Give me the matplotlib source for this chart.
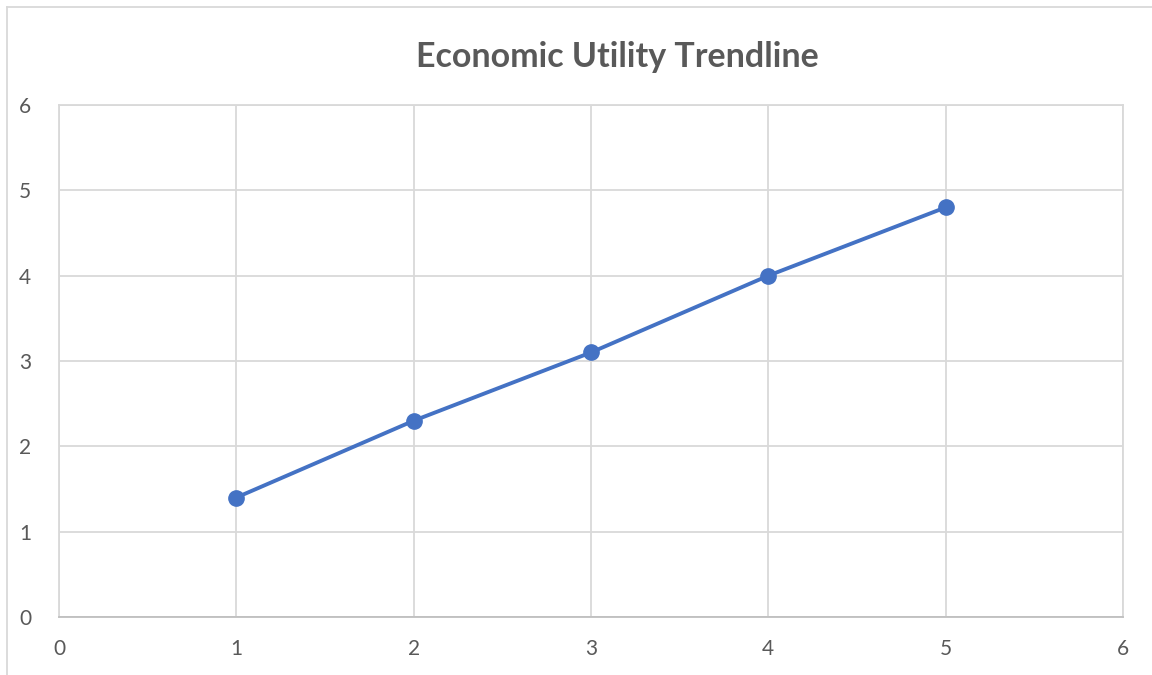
import matplotlib.pyplot as plt
from matplotlib.lines import Line2D

x_vals = [1, 2, 3, 4, 5]
utility = [1.4, 2.3, 3.1, 4.0, 4.8]
ticks = [0, 1, 2, 3, 4, 5, 6]

plt.rcParams['font.family'] = ['Lato', 'DejaVu Sans']

fig = plt.figure(figsize=(11.52, 6.75), dpi=100)
ax = fig.add_axes([59 / 1152, 58 / 675, 1064 / 1152, 512 / 675])

grid_col = '#d9d9d9'
text_col = '#595959'

ax.plot(x_vals, utility, color='#4472C4', lw=2.8, marker='o', ms=11,
        zorder=3, clip_on=False)

ax.set_xlim(0, 6)
ax.set_ylim(0, 6)
ax.set_xticks(ticks)
ax.set_yticks(ticks)
ax.grid(True, color=grid_col, lw=1.3)
ax.set_axisbelow(True)
for s in ax.spines.values():
    s.set_color(grid_col)
    s.set_linewidth(1.3)
ax.spines['bottom'].set_color('#bfbfbf')
ax.tick_params(length=0, labelsize=15, colors=text_col, pad=16)
ax.tick_params(axis='y', pad=20)

fig.text(617 / 1152, 1 - 57 / 675, 'Economic Utility Trendline', ha='center',
         va='center', fontsize=24.5, fontweight='bold', color=text_col)

# chart border (left and top edges visible)
fig.add_artist(Line2D([7 / 1152, 7 / 1152], [0, 1 - 7 / 675], color=grid_col, lw=1.3))
fig.add_artist(Line2D([7 / 1152, 1], [1 - 7 / 675, 1 - 7 / 675], color=grid_col, lw=1.3))

fig.savefig('out.png', dpi=100)
